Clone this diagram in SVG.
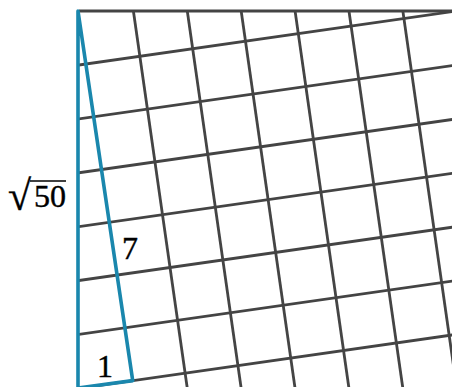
<svg xmlns="http://www.w3.org/2000/svg" width="452" height="387" viewBox="0 0 452 387">
  <defs>
    <clipPath id="box" clipPathUnits="userSpaceOnUse">
      <rect x="79" y="11" width="373" height="376"/>
    </clipPath>
    <style>
      .grid line { stroke: #444444; stroke-width: 2.8; }
      .edge { stroke: #444444; stroke-width: 2.8; }
      .blue { stroke: #1a87ad; stroke-width: 3.6; fill: none; stroke-linejoin: round; stroke-linecap: butt; }
      .lbl { font-family: "Liberation Serif", "DejaVu Serif", serif; font-size: 32px; fill: #000000; stroke: #000000; stroke-width: 0.4; }
    </style>
  </defs>

  <g id="grid" clip-path="url(#box)">
    <g class="grid" transform="translate(79.5,11) rotate(-8.13)">
      <line x1="-60" y1="53.35" x2="440" y2="53.35"/>
      <line x1="-60" y1="106.7" x2="440" y2="106.7"/>
      <line x1="-60" y1="160.05" x2="440" y2="160.05"/>
      <line x1="-60" y1="213.4" x2="440" y2="213.4"/>
      <line x1="-60" y1="266.75" x2="440" y2="266.75"/>
      <line x1="-60" y1="320.1" x2="440" y2="320.1"/>
      <line x1="-60" y1="373.45" x2="440" y2="373.45"/>
      <line x1="-60" y1="426.8" x2="440" y2="426.8"/>
      <line x1="-60" y1="480.15" x2="440" y2="480.15"/>
      <line x1="53.35" y1="-60" x2="53.35" y2="500"/>
      <line x1="106.7" y1="-60" x2="106.7" y2="500"/>
      <line x1="160.05" y1="-60" x2="160.05" y2="500"/>
      <line x1="213.4" y1="-60" x2="213.4" y2="500"/>
      <line x1="266.75" y1="-60" x2="266.75" y2="500"/>
      <line x1="320.1" y1="-60" x2="320.1" y2="500"/>
      <line x1="373.45" y1="-60" x2="373.45" y2="500"/>
      <line x1="426.8" y1="-60" x2="426.8" y2="500"/>
    </g>
  </g>

  <g id="top-edge">
    <line class="edge" x1="79" y1="11" x2="452" y2="11"/>
  </g>

  <g id="triangle">
    <polygon class="blue" points="78,11 132.7,380.6 78,388"/>
  </g>

  <g id="label-sqrt50">
    <text class="lbl" x="8" y="210" style="font-size:42px">√</text>
    <line x1="30" y1="181" x2="66" y2="181" stroke="#000000" stroke-width="1.5"/>
    <text class="lbl" x="34" y="207">50</text>
  </g>
  <g id="label-7">
    <text class="lbl" x="122" y="258.5">7</text>
  </g>
  <g id="label-1">
    <text class="lbl" x="97" y="377">1</text>
  </g>
</svg>
